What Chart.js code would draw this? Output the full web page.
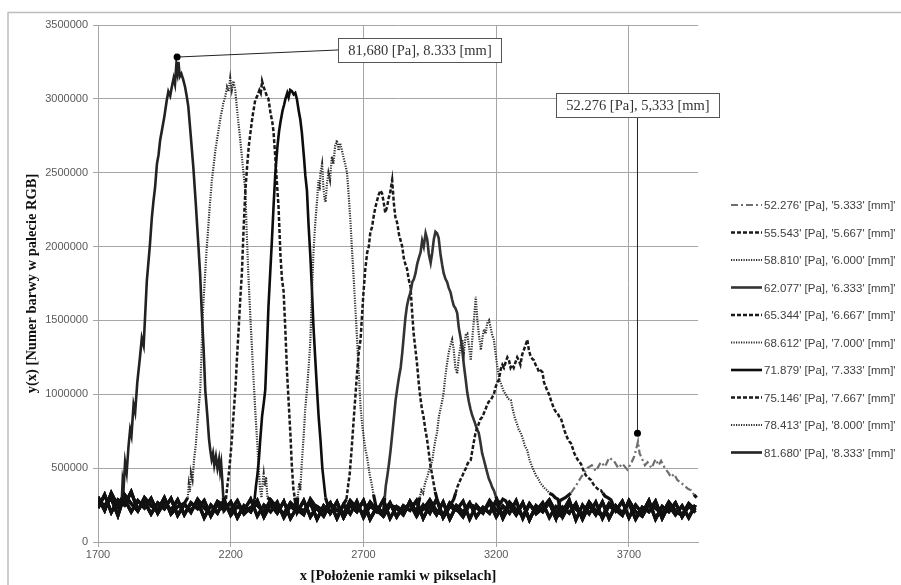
<!DOCTYPE html>
<html>
<head>
<meta charset="utf-8">
<script src="https://cdn.jsdelivr.net/npm/chart.js@4.4.1/dist/chart.umd.min.js"></script>
<style>
  body { margin: 0; background: #fff; }
  canvas { display: block; }
</style>
</head>
<body>
<canvas id="myChart" width="901" height="585"></canvas>
<script>
// series names (pressure, depth)
var pressures = ['52.276', '55.543', '58.810', '62.077', '65.344', '68.612', '71.879', '75.146', '78.413', '81.680'];
var depths = ['5.333', '5.667', '6.000', '6.333', '6.667', '7.000', '7.333', '7.667', '8.000', '8.333'];

var xTickValues = [1700, 2200, 2700, 3200, 3700];

// noise floor (x every 25 px-units)
var baseX = [
  1700,1725,1750,1775,1800,1825,1850,1875,1900,1925,
  1950,1975,2000,2025,2050,2075,2100,2125,2150,2175,
  2200,2225,2250,2275,2300,2325,2350,2375,2400,2425,
  2450,2475,2500,2525,2550,2575,2600,2625,2650,2675,
  2700,2725,2750,2775,2800,2825,2850,2875,2900,2925,
  2950,2975,3000,3025,3050,3075,3100,3125,3150,3175,
  3200,3225,3250,3275,3300,3325,3350,3375,3400,3425,
  3450,3475,3500,3525,3550,3575,3600,3625,3650,3675,
  3700,3725,3750,3775,3800,3825,3850,3875,3900,3925,
  3950
];
var baseA = [
  305000,215000,330000,240000,290000,205000,280000,230000,295000,195000,
  270000,215000,285000,185000,265000,225000,280000,175000,255000,215000,
  270000,165000,245000,205000,280000,170000,255000,195000,275000,160000,
  235000,210000,265000,155000,245000,195000,270000,165000,250000,205000,
  280000,155000,235000,195000,265000,170000,245000,215000,280000,160000,
  250000,185000,270000,155000,245000,200000,265000,170000,235000,195000,
  280000,160000,250000,185000,265000,150000,245000,205000,270000,160000,
  235000,195000,260000,155000,250000,185000,270000,160000,245000,195000,
  265000,155000,235000,205000,275000,160000,250000,185000,245000,165000,
  250000
];
var baseB = [
  230000,320000,200000,285000,250000,340000,215000,275000,190000,265000,
  225000,295000,180000,255000,210000,275000,165000,250000,195000,285000,
  180000,240000,215000,290000,175000,250000,205000,270000,165000,245000,
  200000,280000,170000,240000,210000,265000,160000,255000,190000,275000,
  165000,245000,205000,285000,160000,240000,210000,260000,175000,250000,
  195000,290000,165000,240000,215000,275000,155000,250000,200000,265000,
  170000,245000,195000,280000,160000,255000,210000,265000,165000,240000,
  205000,285000,150000,250000,190000,270000,160000,245000,210000,275000,
  165000,250000,195000,280000,155000,240000,205000,265000,170000,245000,
  200000
];
var baseC = [
  270000,250000,295000,180000,320000,260000,210000,300000,245000,215000,
  300000,190000,240000,260000,200000,290000,230000,190000,275000,245000,
  215000,280000,190000,235000,250000,200000,285000,230000,190000,265000,
  220000,185000,290000,225000,175000,260000,215000,190000,280000,230000,
  195000,270000,215000,175000,250000,230000,185000,275000,200000,220000,
  285000,210000,180000,265000,225000,170000,255000,235000,195000,280000,
  215000,190000,270000,220000,175000,260000,190000,230000,285000,200000,
  170000,255000,225000,185000,270000,210000,175000,260000,220000,180000,
  280000,205000,175000,255000,230000,190000,270000,210000,180000,260000,
  215000
];

// peak of each profile, [x, y]
var peak52 = [[3440,280000],[3460,300000],[3481,330000],[3500,380000],[3520,440000],[3543,500000],[3560,520000],[3575,480000],[3594,540000],[3610,510000],[3625,570000],[3643,550000],[3660,500000],[3675,530000],[3694,490000],[3710,540000],[3720,580000],[3726,620000],[3734,680000],[3740,600000],[3750,560000],[3760,520000],[3770,540000],[3785,500000],[3800,560000],[3812,520000],[3821,550000],[3835,500000],[3848,470000],[3858,440000],[3870,460000],[3882,420000],[3896,400000],[3910,380000],[3922,360000],[3934,350000],[3945,320000],[3955,300000]];
var peak55 = [[3040,290000],[3047,330000],[3053,370000],[3060,400000],[3067,430000],[3073,450000],[3080,480000],[3086,500000],[3092,530000],[3098,545000],[3104,555000],[3110,620000],[3116,680000],[3122,740000],[3128,770000],[3134,800000],[3140,830000],[3147,846000],[3153,870000],[3160,900000],[3166,930000],[3172,950000],[3179,960000],[3185,980000],[3191,1000000],[3198,1050000],[3204,1080000],[3210,1100000],[3217,1170000],[3223,1200000],[3229,1180000],[3236,1220000],[3242,1250000],[3248,1230000],[3254,1180000],[3260,1200000],[3266,1180000],[3273,1220000],[3279,1250000],[3285,1230000],[3291,1200000],[3298,1270000],[3304,1300000],[3310,1330000],[3317,1370000],[3323,1300000],[3329,1260000],[3336,1240000],[3342,1230000],[3348,1200000],[3355,1180000],[3361,1150000],[3368,1160000],[3374,1150000],[3380,1080000],[3387,1050000],[3393,1020000],[3399,1000000],[3406,960000],[3412,930000],[3418,900000],[3425,880000],[3431,870000],[3437,850000],[3443,840000],[3450,800000],[3456,760000],[3462,730000],[3469,700000],[3475,680000],[3481,670000],[3487,640000],[3494,600000],[3500,580000],[3506,560000],[3513,540000],[3519,530000],[3525,500000],[3532,470000],[3538,450000],[3544,440000],[3550,430000],[3557,420000],[3563,400000],[3570,380000],[3576,370000],[3582,360000],[3588,350000],[3594,350000],[3602,330000],[3610,310000],[3620,300000],[3632,285000]];
var peak58 = [[2912,300000],[2918,350000],[2925,330000],[2932,400000],[2940,440000],[2946,480000],[2953,510000],[2960,560000],[2966,640000],[2972,700000],[2977,740000],[2984,850000],[2990,900000],[2996,950000],[3002,1010000],[3008,1120000],[3014,1200000],[3021,1280000],[3027,1330000],[3034,1370000],[3040,1300000],[3046,1180000],[3053,1140000],[3059,1250000],[3066,1330000],[3072,1370000],[3078,1280000],[3085,1400000],[3091,1410000],[3097,1330000],[3104,1230000],[3110,1380000],[3116,1500000],[3123,1660000],[3129,1500000],[3135,1400000],[3142,1300000],[3148,1380000],[3154,1440000],[3160,1410000],[3166,1480000],[3173,1500000],[3179,1450000],[3185,1400000],[3191,1370000],[3198,1270000],[3204,1190000],[3212,1100000],[3220,1060000],[3228,1020000],[3236,1000000],[3245,970000],[3255,960000],[3262,900000],[3270,840000],[3278,800000],[3285,760000],[3292,740000],[3300,700000],[3308,650000],[3317,620000],[3325,560000],[3333,520000],[3342,480000],[3350,450000],[3358,430000],[3366,400000],[3375,380000],[3384,360000],[3392,350000],[3400,330000],[3412,320000],[3422,300000],[3432,290000]];
var peak62 = [[2780,300000],[2784,380000],[2790,450000],[2796,530000],[2802,620000],[2810,760000],[2815,850000],[2821,960000],[2828,1050000],[2834,1120000],[2840,1180000],[2846,1280000],[2852,1400000],[2858,1520000],[2864,1600000],[2870,1650000],[2877,1690000],[2884,1760000],[2890,1780000],[2896,1820000],[2902,1880000],[2908,1920000],[2915,1960000],[2921,2040000],[2927,2000000],[2934,2090000],[2940,2050000],[2946,1950000],[2953,1890000],[2959,1960000],[2965,2050000],[2971,2100000],[2977,2090000],[2983,2060000],[2990,1950000],[2996,1880000],[3002,1820000],[3009,1780000],[3015,1760000],[3021,1720000],[3028,1690000],[3034,1640000],[3040,1600000],[3047,1580000],[3053,1550000],[3059,1450000],[3066,1380000],[3072,1300000],[3078,1200000],[3085,1100000],[3091,1010000],[3097,950000],[3103,900000],[3109,860000],[3115,830000],[3121,800000],[3128,760000],[3134,740000],[3140,680000],[3147,600000],[3153,560000],[3160,510000],[3166,470000],[3172,430000],[3179,400000],[3185,370000],[3191,350000],[3198,310000],[3204,285000],[3215,260000],[3225,290000],[3235,280000],[3245,250000]];
var peak65 = [[2636,290000],[2642,380000],[2648,460000],[2655,620000],[2662,800000],[2670,1000000],[2676,1150000],[2683,1300000],[2689,1370000],[2695,1550000],[2700,1690000],[2707,1850000],[2714,1960000],[2720,2000000],[2726,2100000],[2732,2130000],[2738,2200000],[2744,2260000],[2751,2310000],[2757,2350000],[2764,2380000],[2770,2360000],[2776,2300000],[2782,2230000],[2789,2270000],[2795,2330000],[2800,2360000],[2808,2450000],[2814,2300000],[2820,2200000],[2827,2160000],[2834,2080000],[2840,2040000],[2846,2000000],[2852,1920000],[2858,1880000],[2864,1850000],[2870,1780000],[2877,1730000],[2883,1560000],[2889,1410000],[2896,1300000],[2902,1200000],[2908,1080000],[2914,980000],[2920,900000],[2926,850000],[2933,760000],[2939,700000],[2945,620000],[2952,520000],[2958,460000],[2964,400000],[2970,340000],[2977,290000]];
var peak68 = [[2452,300000],[2458,400000],[2462,350000],[2467,520000],[2474,700000],[2481,910000],[2488,1050000],[2494,1200000],[2500,1370000],[2505,1650000],[2511,1930000],[2518,2150000],[2525,2310000],[2530,2450000],[2535,2380000],[2538,2500000],[2544,2560000],[2549,2400000],[2553,2330000],[2557,2300000],[2562,2420000],[2568,2500000],[2574,2450000],[2581,2610000],[2587,2560000],[2593,2680000],[2600,2720000],[2606,2650000],[2612,2700000],[2619,2650000],[2625,2600000],[2631,2560000],[2638,2500000],[2645,2330000],[2651,2160000],[2656,2000000],[2662,1820000],[2669,1600000],[2676,1370000],[2682,1150000],[2689,910000],[2696,780000],[2703,680000],[2708,620000],[2714,570000],[2722,470000],[2730,400000],[2738,320000]];
var peak71 = [[2290,290000],[2295,380000],[2300,450000],[2306,560000],[2311,690000],[2318,850000],[2325,950000],[2330,1030000],[2336,1300000],[2342,1590000],[2348,1800000],[2355,2040000],[2362,2300000],[2368,2500000],[2376,2680000],[2382,2780000],[2387,2840000],[2395,2920000],[2401,2960000],[2406,3000000],[2413,3040000],[2418,3010000],[2424,3060000],[2431,3050000],[2437,3030000],[2443,3040000],[2449,3000000],[2456,2920000],[2462,2860000],[2468,2770000],[2476,2600000],[2481,2480000],[2487,2380000],[2493,2150000],[2500,1930000],[2506,1700000],[2511,1480000],[2518,1250000],[2525,1030000],[2531,850000],[2538,690000],[2545,500000],[2551,400000],[2557,300000]];
var peak75 = [[2182,290000],[2186,360000],[2192,450000],[2198,560000],[2204,690000],[2212,900000],[2218,1050000],[2223,1230000],[2230,1450000],[2236,1650000],[2242,1820000],[2248,2100000],[2255,2380000],[2262,2550000],[2268,2680000],[2274,2770000],[2282,2880000],[2292,2990000],[2300,3020000],[2308,3060000],[2313,3040000],[2318,3120000],[2324,3080000],[2330,3050000],[2336,3020000],[2342,3000000],[2350,2900000],[2356,2850000],[2361,2780000],[2368,2600000],[2374,2430000],[2380,2270000],[2387,1950000],[2393,1780000],[2399,1700000],[2406,1420000],[2412,1150000],[2418,950000],[2425,720000],[2430,520000],[2436,360000],[2441,300000]];
var peak78 = [[2038,300000],[2042,390000],[2046,340000],[2050,470000],[2056,420000],[2062,560000],[2068,650000],[2072,740000],[2078,880000],[2085,1030000],[2090,1300000],[2096,1590000],[2103,1800000],[2110,2000000],[2116,2150000],[2122,2300000],[2129,2450000],[2135,2540000],[2142,2650000],[2148,2720000],[2155,2800000],[2162,2880000],[2168,2930000],[2172,2970000],[2180,3020000],[2186,3080000],[2192,3050000],[2198,3140000],[2204,3060000],[2210,3120000],[2217,3060000],[2224,2920000],[2230,2820000],[2236,2720000],[2245,2550000],[2255,2380000],[2260,2100000],[2266,1820000],[2275,1480000],[2285,1140000],[2292,900000],[2299,690000],[2305,500000],[2311,350000],[2316,300000],[2320,400000],[2324,460000],[2328,380000],[2333,440000],[2338,300000]];
var peak81 = [[1790,300000],[1793,420000],[1797,380000],[1802,540000],[1808,470000],[1815,650000],[1821,760000],[1826,720000],[1834,930000],[1840,880000],[1848,1080000],[1858,1250000],[1865,1380000],[1872,1330000],[1884,1770000],[1895,2000000],[1903,2200000],[1909,2310000],[1915,2400000],[1922,2560000],[1928,2620000],[1934,2720000],[1942,2800000],[1950,2880000],[1959,2990000],[1965,3050000],[1972,3020000],[1978,3080000],[1985,3140000],[1990,3100000],[1995,3230000],[1999,3180000],[2003,3250000],[2008,3150000],[2014,3170000],[2021,3130000],[2028,3080000],[2034,3020000],[2040,2950000],[2048,2780000],[2059,2540000],[2068,2300000],[2077,2040000],[2085,1800000],[2091,1550000],[2098,1300000],[2104,1030000],[2112,850000],[2118,700000],[2123,620000],[2128,560000],[2133,600000],[2138,520000],[2144,580000],[2150,500000],[2156,560000],[2160,480000],[2164,530000],[2168,420000],[2172,300000]];

var peaks = [peak52, peak55, peak58, peak62, peak65, peak68, peak71, peak75, peak78, peak81];
var bases = [baseA, baseB, baseC];

// marked points and their callouts
var calloutTop = { text: '81,680 [Pa], 8.333 [mm]', point: [1998, 3283000], box: [2913, 3331000] };
var calloutRight = { text: '52.276 [Pa], 5,333 [mm]', point: [3732, 737000], box: [3734, 2958000] };

// line look per series
var lineColors = ['#6e6e6e', '#1a1a1a', '#2a2a2a', '#333333', '#1a1a1a', '#2a2a2a', '#0d0d0d', '#1a1a1a', '#2a2a2a', '#222222'];
var lineDashes = [[7, 3, 2, 3], [4, 2], [1.2, 1.3], [], [4, 2], [1.2, 1.3], [], [4, 2], [1.2, 1.3], []];
var lineWidths = [2.2, 2.5, 2.2, 2.6, 2.5, 2.2, 2.6, 2.5, 2.2, 2.6];

function buildSeries(peak, base) {
  var first = peak[0][0], last = peak[peak.length - 1][0];
  var pts = [];
  for (var i = 0; i < baseX.length; i++) {
    if (baseX[i] < first) pts.push({ x: baseX[i], y: base[i] });
  }
  peak.forEach(function (p) { pts.push({ x: p[0], y: p[1] }); });
  for (var j = 0; j < baseX.length; j++) {
    if (baseX[j] > last) pts.push({ x: baseX[j], y: base[j] });
  }
  return pts;
}

// the noise floor looks like one dark band in the original
function onFloor(c) {
  return c.p0.parsed.y < 345000 && c.p1.parsed.y < 345000;
}

var datasets = pressures.map(function (p, i) {
  return {
    label: p + "' [Pa], '" + depths[i] + "' [mm]'",
    data: buildSeries(peaks[i], bases[i % 3]),
    borderColor: lineColors[i],
    borderDash: lineDashes[i],
    borderWidth: lineWidths[i],
    showLine: true,
    pointRadius: 0,
    fill: false,
    segment: {
      borderWidth: function (c) { return onFloor(c) ? 3.2 : undefined; },
      borderDash: function (c) { return onFloor(c) ? [] : undefined; },
      borderColor: function (c) { return onFloor(c) ? '#111' : undefined; }
    }
  };
});

var tickFont = { family: 'Liberation Sans', size: 11 };
var titleFont = { family: 'Liberation Serif', size: 14.5, weight: 'bold' };

var frame = {
  id: 'frame',
  beforeDraw: function (chart) {
    var c = chart.ctx;
    c.save();
    c.strokeStyle = '#bdbdbd';
    c.lineWidth = 1.5;
    c.beginPath();
    c.moveTo(8, 585); c.lineTo(8, 12.5); c.lineTo(901, 12.5);
    c.stroke();
    c.restore();
  }
};

var sideLegend = {
  id: 'sideLegend',
  afterDraw: function (chart) {
    var c = chart.ctx;
    c.save();
    c.font = '11.5px "Liberation Sans"';
    c.textBaseline = 'middle';
    chart.data.datasets.forEach(function (ds, i) {
      var y = 205 + i * 27.5;
      c.strokeStyle = ds.borderColor;
      c.lineWidth = ds.borderWidth;
      c.setLineDash(ds.borderDash);
      c.beginPath();
      c.moveTo(731, y); c.lineTo(762, y);
      c.stroke();
      c.setLineDash([]);
      c.fillStyle = '#404040';
      c.fillText(ds.label, 764, y + 1);
    });
    c.restore();
  }
};

var callouts = {
  id: 'callouts',
  afterDatasetsDraw: function (chart) {
    var c = chart.ctx, sx = chart.scales.x, sy = chart.scales.y;
    c.save();
    c.font = '14.5px "Liberation Serif"';
    [calloutTop, calloutRight].forEach(function (co, k) {
      var px = sx.getPixelForValue(co.point[0]), py = sy.getPixelForValue(co.point[1]);
      var bx = sx.getPixelForValue(co.box[0]), by = sy.getPixelForValue(co.box[1]);
      var w = c.measureText(co.text).width + 20, h = 24;
      var left = bx - w / 2, top = by - h / 2;
      c.strokeStyle = '#222';
      c.lineWidth = 1;
      c.beginPath();
      c.moveTo(px, py);
      if (k === 0) c.lineTo(left, by); else c.lineTo(px, top + h);
      c.stroke();
      c.fillStyle = '#000';
      c.beginPath();
      c.arc(px, py, 3.5, 0, Math.PI * 2);
      c.fill();
      c.fillStyle = '#fff';
      c.fillRect(left, top, w, h);
      c.strokeStyle = '#555';
      c.strokeRect(Math.round(left) + 0.5, Math.round(top) + 0.5, Math.round(w), h);
      c.fillStyle = '#333';
      c.textAlign = 'center';
      c.textBaseline = 'middle';
      c.fillText(co.text, bx, by + 1);
    });
    c.restore();
  }
};

var ctx = document.getElementById('myChart').getContext('2d');
var myChart = new Chart(ctx, {
  type: 'scatter',
  data: { datasets: datasets },
  options: {
    responsive: false,
    animation: false,
    events: [],
    layout: { padding: { left: 0, right: 203, top: 25, bottom: 0 } },
    plugins: { legend: { display: false }, tooltip: { enabled: false } },
    scales: {
      x: {
        type: 'linear',
        min: 1700,
        max: 3960,
        afterBuildTicks: function (s) { s.ticks = xTickValues.map(function (v) { return { value: v }; }); },
        afterFit: function (s) { s.height = 43; },
        grid: { color: '#a6a6a6', tickLength: 5 },
        border: { color: '#a6a6a6' },
        ticks: { font: tickFont, color: '#595959', padding: 1, maxRotation: 0, callback: function (v) { return String(v); } },
        title: { display: true, text: 'x [Położenie ramki w pikselach]', font: titleFont, color: '#111', padding: { top: 2, bottom: 0 } }
      },
      y: {
        min: 0,
        max: 3500000,
        afterFit: function (s) { s.width = 98; },
        grid: { color: '#a6a6a6', tickLength: 5 },
        border: { color: '#a6a6a6' },
        ticks: { stepSize: 500000, font: tickFont, color: '#595959', padding: 5, callback: function (v) { return String(v); } },
        title: { display: true, text: 'y(x) [Numer barwy w palecie RGB]', font: titleFont, color: '#111', padding: { top: 24, bottom: 0 } }
      }
    }
  },
  plugins: [frame, callouts, sideLegend]
});
</script>
</body>
</html>
